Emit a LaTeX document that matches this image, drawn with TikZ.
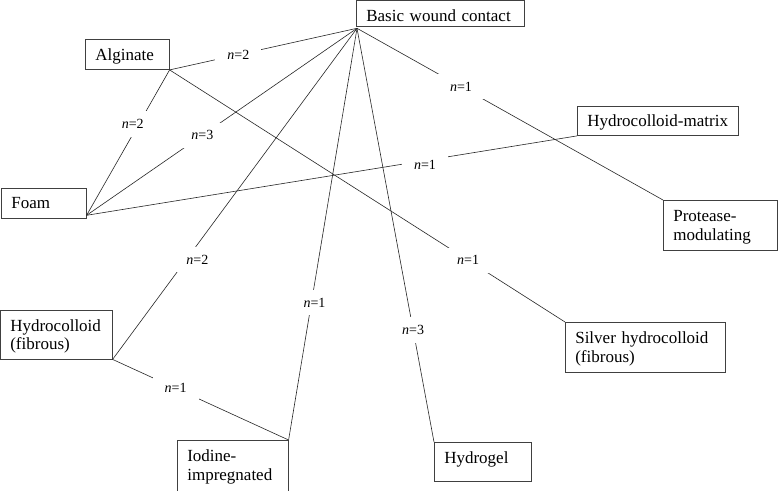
\documentclass[tikz,border=0pt]{standalone}
\usepackage{fontspec}
\setmainfont{Liberation Serif}
\begin{document}
\begin{tikzpicture}[x=1pt,y=-1pt,
  box/.style={draw=black!75, line width=0.6pt, anchor=north west, align=left,
    inner xsep=10pt, inner ysep=10pt, text height=11.3pt, text depth=0pt,
    font=\fontsize{17}{18.5}\selectfont},
  twoline/.style={text depth=18.5pt},
  edge/.style={draw=black!85, line width=0.6pt},
  lbl/.style={fill=white, inner xsep=12pt, inner ysep=8pt,
    font=\fontsize{14}{16}\selectfont}]
\useasboundingbox (0,0) rectangle (779,490);
\clip (0,0) rectangle (779,490);
\fill[white] (0,0) rectangle (779,490);

\node[box, text width=148pt, inner ysep=5pt, text height=15.7pt] (basic) at (356,0) {\mbox{Basic wound contact}};
\node[box, text width=64pt, inner ysep=9.5pt] (alginate) at (85,39) {\mbox{Alginate}};
\node[box, text width=65pt, inner ysep=9.2pt] (foam) at (1,188) {\mbox{Foam}};
\node[box, text width=141pt, inner ysep=9pt] (matrix) at (577,106) {\mbox{Hydrocolloid-matrix}};
\node[box, twoline, text width=94pt] (protease) at (663,200) {\mbox{Protease-}\\\mbox{modulating}};
\node[box, twoline, text width=92pt, inner ysep=9.5pt] (hydrocol) at (0,310) {\mbox{Hydrocolloid}\\\mbox{(fibrous)}};
\node[box, twoline, text width=91pt, text depth=25pt] (iodine) at (177,440) {\mbox{Iodine-}\\\mbox{impregnated}};
\node[box, text width=77pt, text depth=8pt] (hydrogel) at (434,442) {\mbox{Hydrogel}};
\node[box, twoline, text width=140pt] (silver) at (565,322) {\mbox{Silver hydrocolloid}\\\mbox{(fibrous)}};

\coordinate (hub) at ([shift={(1pt,-2pt)}]basic.south west);
\coordinate (foamp) at ([yshift=3pt]foam.south east);

\draw[edge] (alginate.south east) -- node[lbl, pos=0.367] {\textit{n}=2} (hub);
\draw[edge] (alginate.south east) -- node[lbl, pos=0.372, xshift=-6pt] {\textit{n}=2} (foamp);
\draw[edge] (hub) -- node[lbl, pos=0.572] {\textit{n}=3} (foamp);
\draw[edge] (hub) -- node[lbl, pos=0.34] {\textit{n}=1} (protease.north west);
\draw[edge] (foamp) -- node[lbl, pos=0.69, yshift=-4pt] {\textit{n}=1} (matrix.south west);
\draw[edge] (hub) -- node[lbl, pos=0.692, xshift=9.5pt, yshift=-2pt] {\textit{n}=2} (hydrocol.south east);
\draw[edge] (hub) -- node[lbl, pos=0.666, xshift=3pt] {\textit{n}=1} (iodine.north east);
\draw[edge] (hydrocol.south east) -- node[lbl, pos=0.358] {\textit{n}=1} (iodine.north east);
\draw[edge] (alginate.south east) -- node[lbl, pos=0.755] {\textit{n}=1} (silver.north west);
\draw[edge] (hub) -- node[lbl, pos=0.729] {\textit{n}=3} (hydrogel.north west);
\end{tikzpicture}
\end{document}
